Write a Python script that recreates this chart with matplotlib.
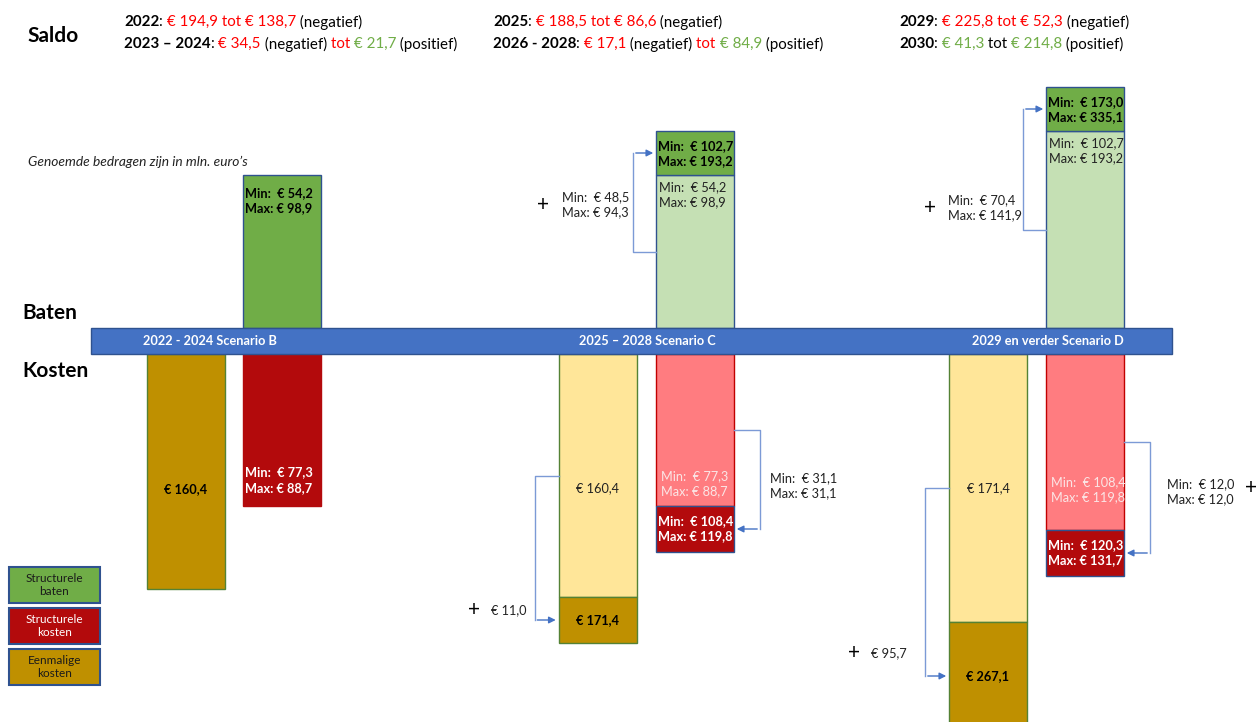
import matplotlib.pyplot as plt

plt.rcParams['font.family'] = ['Lato', 'DejaVu Sans']

# --- data (mln. euro) ---
scenarios = ['2022 - 2024 Scenario B', '2025 – 2028 Scenario C', '2029 en verder Scenario D']
baten_min = [54.2, 102.7, 173.0]
baten_max = [98.9, 193.2, 335.1]
struct_kosten_min = [77.3, 108.4, 120.3]
struct_kosten_max = [88.7, 119.8, 131.7]
eenmalig = [160.4, 171.4, 267.1]

# increase compared with the previous scenario (C, D)
baten_plus_min = [48.5, 70.4]
baten_plus_max = [94.3, 141.9]
struct_plus_min = [31.1, 12.0]
struct_plus_max = [31.1, 12.0]
eenmalig_plus = [11.0, 95.7]

saldo_periods = ['2022', '2023 – 2024', '2025', '2026 - 2028', '2029', '2030']
saldo_from = [-194.9, -34.5, -188.5, -17.1, -225.8, 41.3]
saldo_to = [-138.7, 21.7, -86.6, 84.9, -52.3, 214.8]

legend_labels = ['Structurele\nbaten', 'Structurele\nkosten', 'Eenmalige\nkosten']

# --- schematic layout (pixels) ---
x_eenm = [186, 597.5, 988]
x_struct = [282, 695, 1085]
bar_w = 78
top_line, bottom_line = 328, 354
baten_h = [153, 153, 197]
baten_h_extra = [0, 44, 44]
struct_h = [152, 152, 176]
struct_h_extra = [0, 46, 46]
eenm_h = [235, 243, 268]
eenm_h_extra = [0, 46, 108]

GREEN, LGREEN = '#70AD47', '#C5E0B4'
DRED, PINK = '#B30A0C', '#FF7C80'
GOLD, YELLOW = '#BF9000', '#FFE699'
BLUE, EDGE = '#4472C4', '#2F528F'
RED = '#FF0000'
ARROW = '#7C9AD6'


def eur(v):
    return '€ ' + f'{abs(v):.1f}'.replace('.', ',')


def minmax(a, b):
    return f'Min:  {eur(a)}\nMax: {eur(b)}'


fig = plt.figure(figsize=(12.57, 7.22), dpi=100)
ax = fig.add_axes([0, 0, 1, 1])
ax.set_xlim(0, 1257)
ax.set_ylim(722, 0)
ax.axis('off')
renderer = fig.canvas.get_renderer()

# band with scenario names
ax.barh(341, 1081, left=91, height=26, color=BLUE, edgecolor=EDGE, lw=1, zorder=3)
for i, name in enumerate(scenarios):
    cx = [210, 647, 1048][i]
    ax.text(cx, 341, name, color='white', fontsize=9.2, fontweight='bold',
            ha='center', va='center', zorder=4)

lab = dict(fontsize=9.2, ha='left', va='top', linespacing=1.3, zorder=5)

for i in range(3):
    xl = x_struct[i] - bar_w / 2
    xe = x_eenm[i] - bar_w / 2
    # baten
    base_top = top_line - baten_h[i]
    if i == 0:
        ax.bar(x_struct[i], -baten_h[i], bottom=top_line, width=bar_w,
               color=GREEN, edgecolor=EDGE, lw=1)
        ax.text(xl + 2, base_top + 12, minmax(baten_min[i], baten_max[i]),
                fontweight='bold', **lab)
    else:
        ax.bar(x_struct[i], -baten_h[i], bottom=top_line, width=bar_w,
               color=LGREEN, edgecolor=EDGE, lw=1)
        ax.text(xl + 3, base_top + 6, minmax(baten_min[i - 1], baten_max[i - 1]),
                color='#222222', **lab)
        ex_top = base_top - baten_h_extra[i]
        ax.bar(x_struct[i], -baten_h_extra[i], bottom=base_top, width=bar_w,
               color=GREEN, edgecolor=EDGE, lw=1)
        ax.text(xl + 2, ex_top + 9, minmax(baten_min[i], baten_max[i]),
                fontweight='bold', **lab)
        # bracket
        bx = xl - 23
        y0 = top_line - baten_h[i] / 2
        y1 = base_top - baten_h_extra[i] / 2
        ax.plot([xl, bx, bx], [y0, y0, y1], color=ARROW, lw=1)
        ax.annotate('', xy=(xl, y1), xytext=(bx, y1),
                    arrowprops=dict(arrowstyle='-|>', color=BLUE, lw=1))
        ly = [205, 208][i - 1]
        ax.text(xl - 113 + (i - 1) * -3, ly, '+', fontsize=15, ha='center', va='center')
        ax.text(xl - 94 + (i - 1) * -4, ly, minmax(baten_plus_min[i - 1], baten_plus_max[i - 1]),
                fontsize=9.2, ha='left', va='center', linespacing=1.3, color='#222222')

    # structurele kosten
    s_bot = bottom_line + struct_h[i]
    if i == 0:
        ax.bar(x_struct[i], struct_h[i], bottom=bottom_line, width=bar_w,
               color=DRED, edgecolor=DRED, lw=1)
        ax.text(xl + 2, s_bot - 26, minmax(struct_kosten_min[i], struct_kosten_max[i]),
                color='white', fontweight='bold', fontsize=9.2, ha='left', va='center',
                linespacing=1.35)
    else:
        ax.bar(x_struct[i], struct_h[i], bottom=bottom_line, width=bar_w,
               color=PINK, edgecolor='#C00000', lw=1)
        ax.text(xl + 5, s_bot - [22, 40][i - 1],
                minmax(struct_kosten_min[i - 1], struct_kosten_max[i - 1]),
                color='#FBE5E5', fontsize=9.2, ha='left', va='center', linespacing=1.3)
        ax.bar(x_struct[i], struct_h_extra[i], bottom=s_bot, width=bar_w,
               color=DRED, edgecolor=EDGE, lw=1)
        ax.text(xl + 2, s_bot + struct_h_extra[i] / 2,
                minmax(struct_kosten_min[i], struct_kosten_max[i]),
                color='white', fontweight='bold', fontsize=9.2, ha='left', va='center',
                linespacing=1.3, zorder=5)
        # bracket
        xr = xl + bar_w
        bx = xr + 26
        y0 = bottom_line + struct_h[i] / 2
        y1 = s_bot + struct_h_extra[i] / 2
        ax.plot([xr, bx, bx], [y0, y0, y1], color=ARROW, lw=1)
        ax.annotate('', xy=(xr, y1), xytext=(bx, y1),
                    arrowprops=dict(arrowstyle='-|>', color=BLUE, lw=1))
        tx = [770, 1167][i - 1]
        ty = [486, 492][i - 1]
        ax.text(tx, ty, minmax(struct_plus_min[i - 1], struct_plus_max[i - 1]),
                fontsize=9.2, ha='left', va='center', linespacing=1.3, color='#222222')
        if i == 2:
            ax.text(1251, 488, '+', fontsize=15, ha='center', va='center')

    # eenmalige kosten
    e_bot = bottom_line + eenm_h[i]
    if i == 0:
        ax.bar(x_eenm[i], eenm_h[i], bottom=bottom_line, width=bar_w,
               color=GOLD, edgecolor='#548235', lw=1)
        ax.text(x_eenm[i], 489, eur(eenmalig[i]), fontsize=9.2, fontweight='bold',
                ha='center', va='center')
    else:
        ax.bar(x_eenm[i], eenm_h[i], bottom=bottom_line, width=bar_w,
               color=YELLOW, edgecolor='#548235', lw=1)
        ax.text(x_eenm[i], 488, eur(eenmalig[i - 1]), fontsize=9.2,
                ha='center', va='center', color='#222222')
        ax.bar(x_eenm[i], eenm_h_extra[i], bottom=e_bot, width=bar_w,
               color=GOLD, edgecolor='#548235', lw=1)
        ax.text(x_eenm[i], e_bot + eenm_h_extra[i] / 2, eur(eenmalig[i]), fontsize=9.2,
                fontweight='bold', ha='center', va='center')
        # bracket
        bx = xe - 24
        y0 = bottom_line + eenm_h[i] / 2
        y1 = e_bot + eenm_h_extra[i] / 2
        ax.plot([xe, bx, bx], [y0, y0, y1], color=ARROW, lw=1)
        ax.annotate('', xy=(xe, y1), xytext=(bx, y1),
                    arrowprops=dict(arrowstyle='-|>', color=BLUE, lw=1))
        px = [474, 854][i - 1]
        py = [610, 653][i - 1]
        ax.text(px, py, '+', fontsize=15, ha='center', va='center')
        ax.text(px + 17, py, eur(eenmalig_plus[i - 1]), fontsize=9.2, ha='left',
                va='center', color='#222222')

# titles on the left
ax.text(27, 36, 'Saldo', fontsize=15, fontweight='bold', va='center')
ax.text(22, 313, 'Baten', fontsize=15, fontweight='bold', va='center')
ax.text(22, 371, 'Kosten', fontsize=15, fontweight='bold', va='center')
ax.text(28, 162, 'Genoemde bedragen zijn in mln. euro’s', fontsize=9.9,
        style='italic', va='center', color='#222222')


# saldo header, coloured pieces
def width(s, **kw):
    t = ax.text(0, 0, s + '|', **kw)
    t2 = ax.text(0, 0, '|', **kw)
    w = t.get_window_extent(renderer).width - t2.get_window_extent(renderer).width
    t.remove()
    t2.remove()
    return w


def pieces_line(x, y, pieces):
    for s, c, b in pieces:
        kw = dict(fontsize=10.9, color=c, fontweight='bold' if b else 'normal')
        ax.text(x, y, s, va='center', ha='left', **kw)
        x += width(s, **kw)


starts = [(124, 22), (124, 44), (493, 22), (493, 44), (899, 22), (899, 44)]
for k, per in enumerate(saldo_periods):
    a, b = saldo_from[k], saldo_to[k]
    p = [(per, 'black', True), (': ', 'black', False)]
    if a < 0 and b < 0:
        p += [(f'{eur(a)} tot {eur(b)}', RED, False), (' (negatief)', 'black', False)]
    elif a < 0:
        p += [(eur(a), RED, False), (' (negatief) ', 'black', False),
              ('tot ', RED, False), (eur(b), GREEN, False), (' (positief)', 'black', False)]
    else:
        p += [(eur(a), GREEN, False), (' tot ', 'black', False),
              (eur(b), GREEN, False), (' (positief)', 'black', False)]
    pieces_line(starts[k][0], starts[k][1], p)

# legend boxes
leg_colors = [GREEN, DRED, GOLD]
leg_text = ['#1a1a1a', 'white', '#1a1a1a']
leg_y = [585, 626, 667]
for lbl, c, tc, y in zip(legend_labels, leg_colors, leg_text, leg_y):
    ax.barh(y, 91, left=9, height=36, color=c, edgecolor=EDGE, lw=1.5)
    ax.text(54.5, y, lbl, fontsize=8.5, ha='center', va='center', color=tc,
            linespacing=1.3)

fig.savefig('out.png', dpi=100)
